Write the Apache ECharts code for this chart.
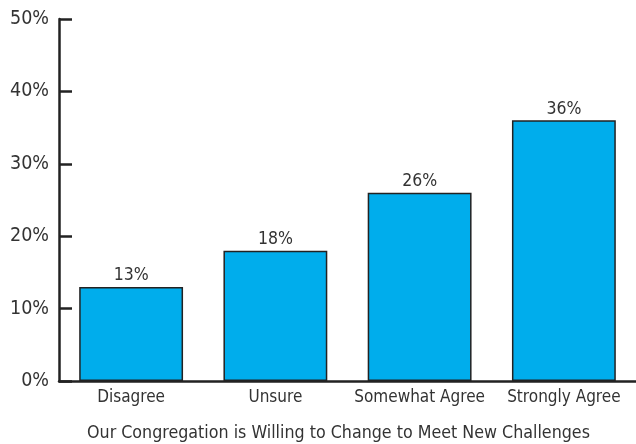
<!DOCTYPE html>
<html><head><meta charset="utf-8">
<script src="https://cdn.jsdelivr.net/npm/echarts@6/dist/echarts.min.js"></script>
<style>html,body{margin:0;padding:0;background:#fff}#c{width:636px;height:444px}</style>
</head><body><div id="c"></div>
<script>
const categories = ['Disagree', 'Unsure', 'Somewhat Agree', 'Strongly Agree'];
const values = [13, 18, 26, 36];
const yTicks = [0, 10, 20, 30, 40, 50];
const xTitle = 'Our Congregation is Willing to Change to Meet New Challenges';

const FONT = '"Liberation Sans Narrow", "DejaVu Sans Condensed", sans-serif';
const chart = echarts.init(document.getElementById('c'));
chart.setOption({
  animation: false,
  textStyle: { fontFamily: FONT },
  grid: { left: 59, right: 0, top: 19, bottom: 63, containLabel: false, outerBoundsMode: 'none' },
  xAxis: {
    type: 'category', data: categories,
    axisLine: { lineStyle: { color: '#222', width: 2.5 } },
    axisTick: { show: false },
    axisLabel: { color: '#333', fontSize: 17, margin: 8, interval: 0, fontFamily: FONT },
    name: xTitle, nameLocation: 'middle', nameGap: 43,
    nameTextStyle: { color: '#333', fontSize: 17.7, fontFamily: FONT, padding: [0, 18, 0, 0] }
  },
  yAxis: {
    type: 'value', min: yTicks[0], max: yTicks[yTicks.length - 1], interval: 10,
    axisLine: { show: true, lineStyle: { color: '#222', width: 2.5 } },
    axisTick: { show: true, inside: true, length: 13, lineStyle: { color: '#222', width: 2.5 } },
    splitLine: { show: false },
    axisLabel: { color: '#333', fontSize: 19.5, margin: 10, fontFamily: FONT, formatter: v => v + '%' }
  },
  series: [{
    type: 'bar', data: values, barWidth: '72%',
    itemStyle: { color: '#00ADEC', borderColor: '#222', borderWidth: 1.5 },
    label: { show: true, position: 'top', distance: 2, color: '#333', fontSize: 17.5, fontFamily: FONT, formatter: p => p.value + '%' }
  }]
});
</script></body></html>
